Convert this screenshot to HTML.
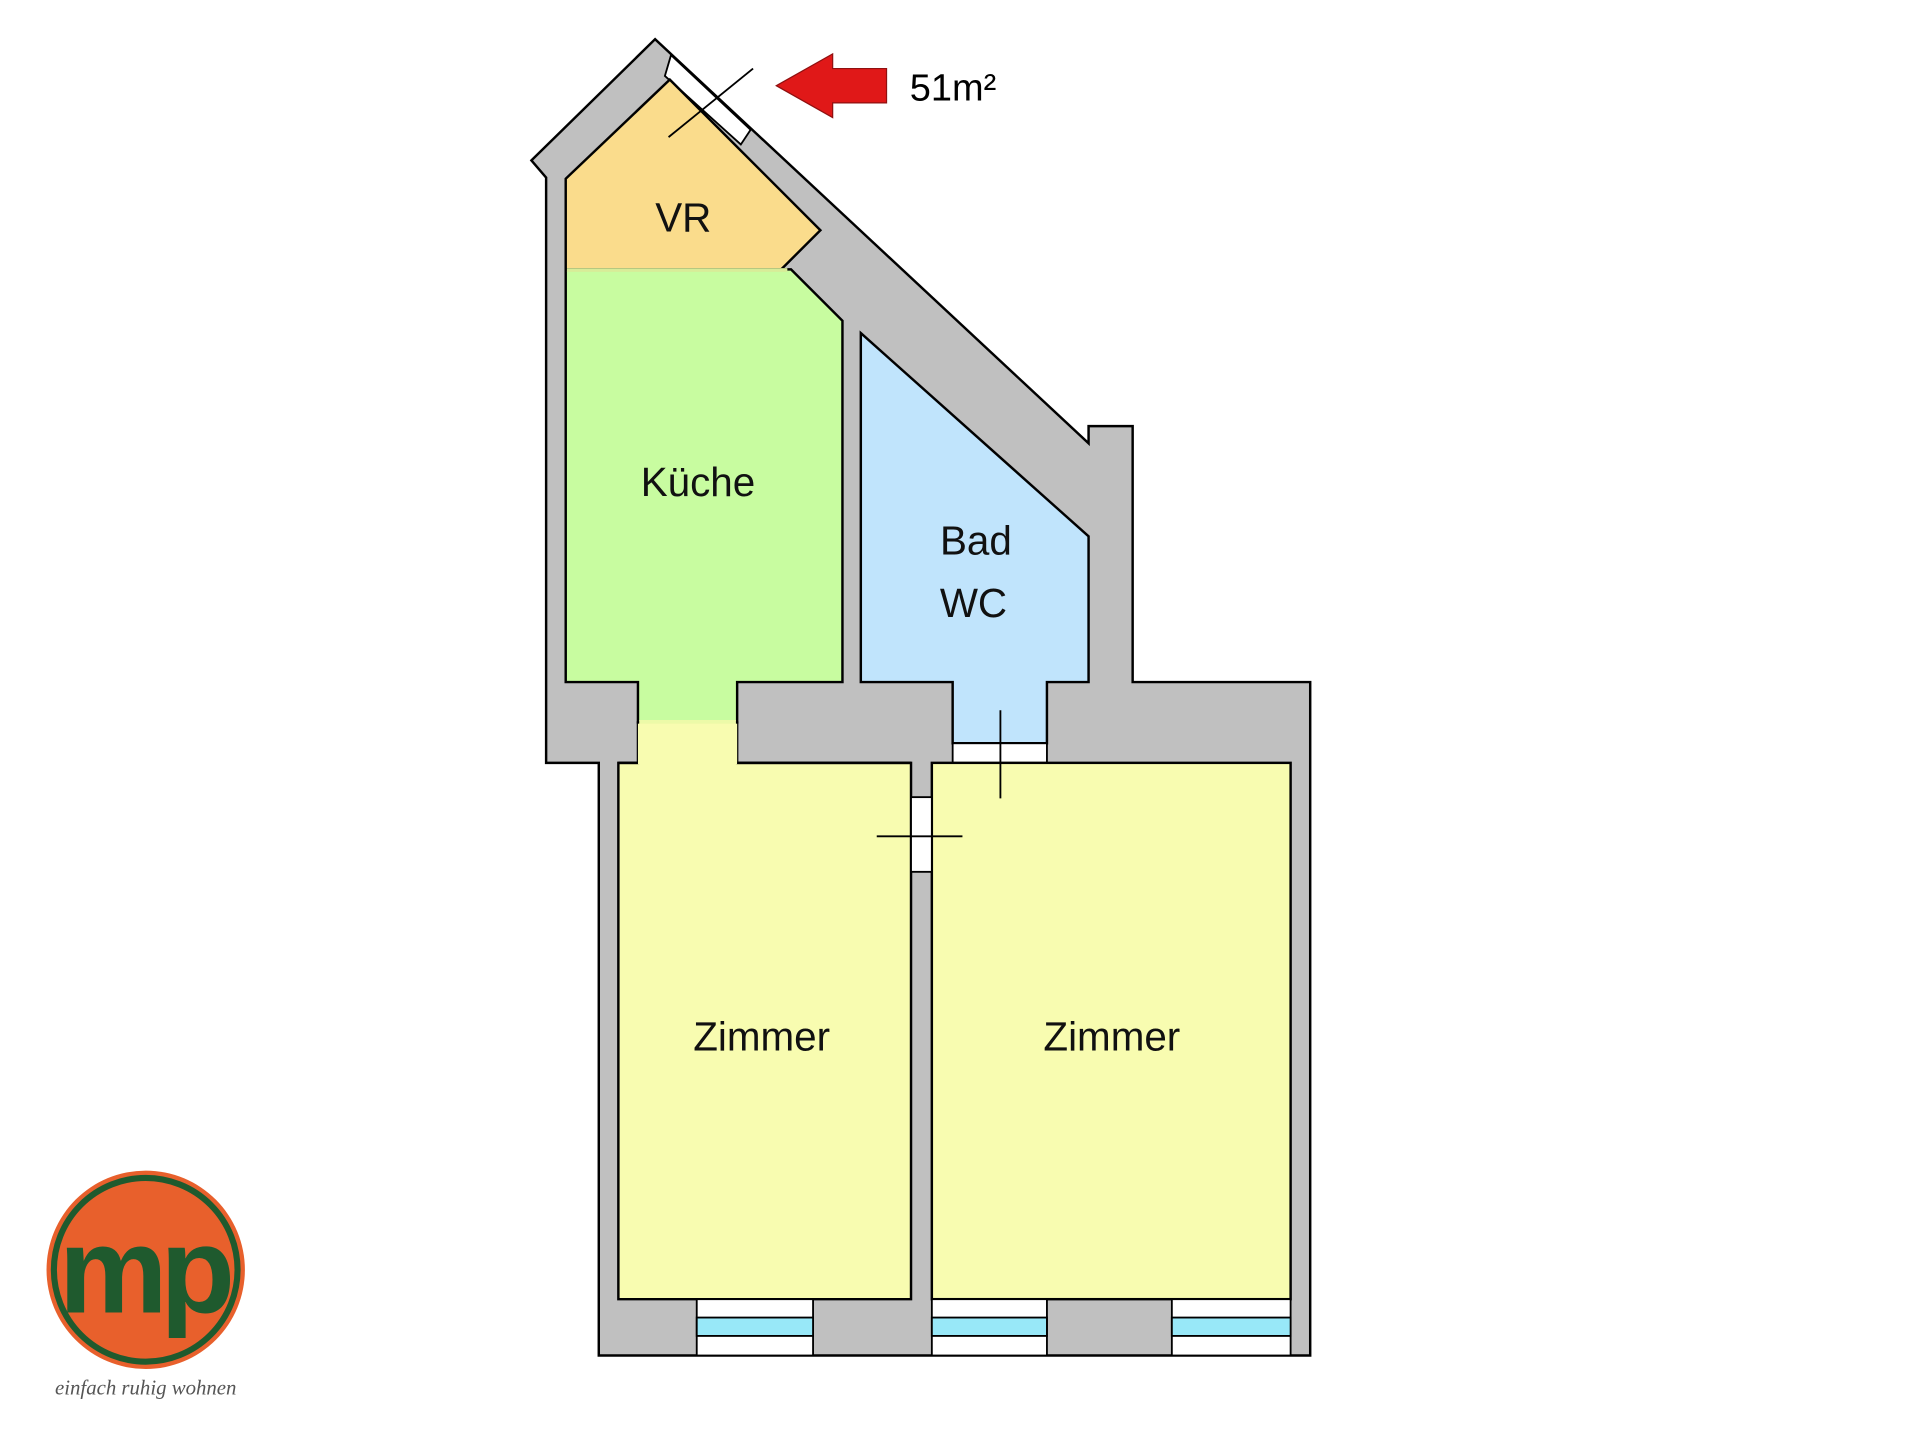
<!DOCTYPE html>
<html><head><meta charset="utf-8"><style>html,body{margin:0;padding:0;background:#fff}svg{display:block}</style></head><body>
<svg width="1920" height="1440" viewBox="0 0 1568 1176" xmlns="http://www.w3.org/2000/svg" font-family="Liberation Sans, sans-serif">
<polygon points="434,131 535,32 889,362 889,348 925,348 925,557 1070,557 1070,1107 489,1107 489,623 446,623 446,145" fill="#c0c0c0" stroke="#000" stroke-width="2"/>
<polygon points="548,45 613,106 605,118 543,62" fill="#fff" stroke="#000" stroke-width="1.5"/>
<polygon points="462,146 547,65 670,188 638,220 462,220" fill="#fadc8c" stroke="#000" stroke-width="2"/>
<polygon points="462,220 646,220 688,262 688,557 602,557 602,590 521,590 521,557 462,557" fill="#c8fca0" stroke="#000" stroke-width="2"/>
<rect x="463" y="219" width="180" height="3" fill="#d8ec98"/>
<polygon points="703,272 889,438 889,557 855,557 855,607 778,607 778,557 703,557" fill="#c0e4fc" stroke="#000" stroke-width="2"/>
<rect x="778" y="607" width="77" height="16" fill="#fff" stroke="#000" stroke-width="1.5"/>
<polygon points="505,623 521,623 521,590 602,590 602,623 744,623 744,1061 505,1061" fill="#f8fcb0" stroke="#000" stroke-width="2"/>
<rect x="522" y="588" width="79" height="4" fill="#ecfaa8"/>
<rect x="521" y="591" width="81" height="33" fill="#f8fcb0"/>
<line x1="505" y1="623" x2="521" y2="623" stroke="#000" stroke-width="2"/>
<line x1="602" y1="623" x2="744" y2="623" stroke="#000" stroke-width="2"/>
<rect x="761" y="623" width="293" height="438" fill="#f8fcb0" stroke="#000" stroke-width="2"/>
<rect x="744" y="651" width="17" height="61" fill="#fff" stroke="#000" stroke-width="1.5"/>
<g stroke="#000" stroke-width="1.5">
<rect x="569" y="1061" width="95" height="46" fill="#fff"/><rect x="569" y="1076" width="95" height="15" fill="#98e8f8"/>
<rect x="761" y="1061" width="94" height="46" fill="#fff"/><rect x="761" y="1076" width="94" height="15" fill="#98e8f8"/>
<rect x="957" y="1061" width="97" height="46" fill="#fff"/><rect x="957" y="1076" width="97" height="15" fill="#98e8f8"/>
</g>
<g stroke="#000" stroke-width="1.5">
<line x1="546" y1="112" x2="615" y2="56"/>
<line x1="817" y1="580" x2="817" y2="652"/>
<line x1="716" y1="683" x2="786" y2="683"/>
</g>
<polygon points="634,70 680,44 680,56 724,56 724,84 680,84 680,96" fill="#e01818" stroke="#901010" stroke-width="1"/>
<text x="743" y="82" font-size="31" fill="#000">51m²</text>
<g font-size="33" fill="#111" text-anchor="middle">
<text x="558" y="189">VR</text>
<text x="570" y="405">Küche</text>
<text x="797" y="453">Bad</text>
<text x="795" y="504">WC</text>
<text x="622" y="858">Zimmer</text>
<text x="908" y="858">Zimmer</text>
</g>
<circle cx="119" cy="1037" r="81" fill="#e8602c"/>
<circle cx="119" cy="1037" r="75" fill="none" stroke="#1f5a2e" stroke-width="5"/>
<text x="117" y="1072" font-size="100" font-weight="bold" fill="#1f5a2e" text-anchor="middle" letter-spacing="-6">mp</text>
<text x="119" y="1139" font-size="17" font-style="italic" fill="#555" text-anchor="middle" font-family="Liberation Serif, serif">einfach ruhig wohnen</text>
</svg>
</body></html>
